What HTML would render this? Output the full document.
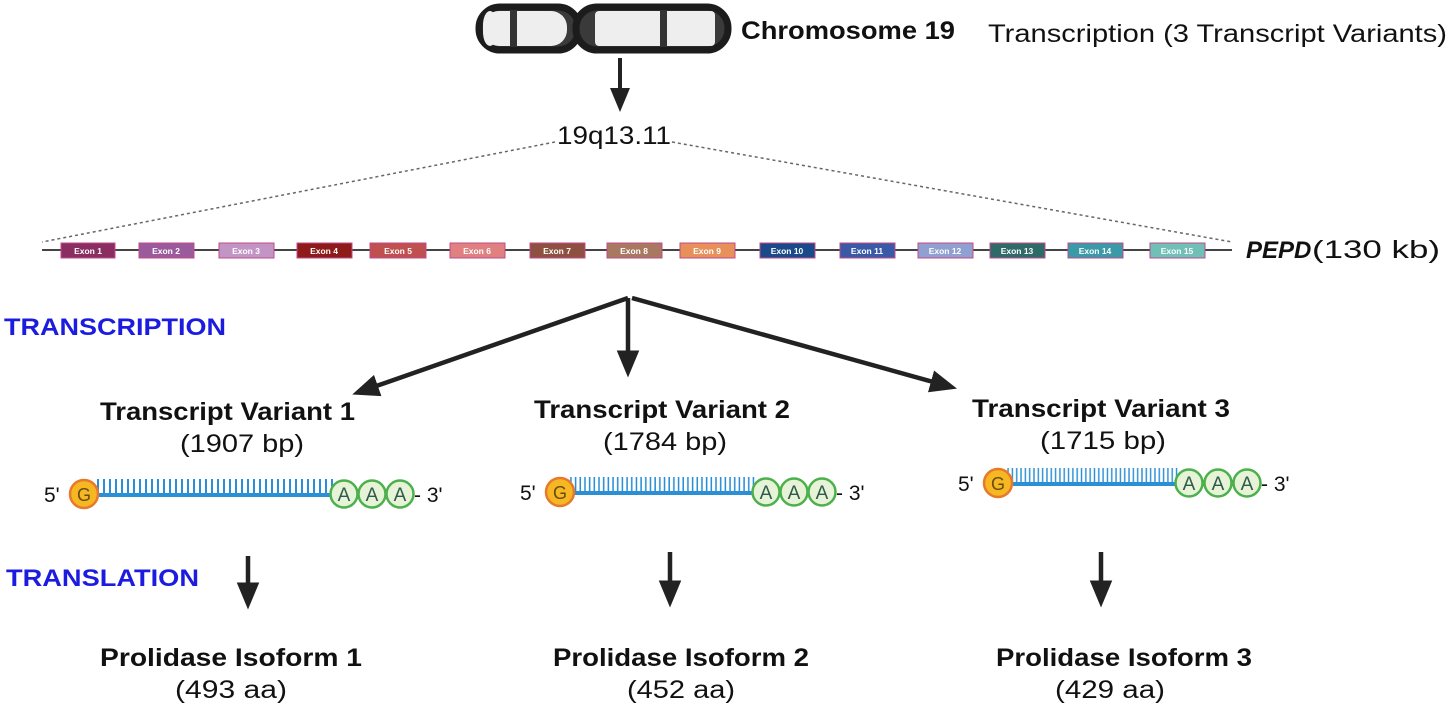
<!DOCTYPE html>
<html><head><meta charset="utf-8"><style>
html,body{margin:0;padding:0;background:#fff;}
svg{display:block;font-family:"Liberation Sans",sans-serif;}
.b{font-weight:bold;}
</style></head><body>
<svg width="1450" height="708" viewBox="0 0 1450 708" xmlns="http://www.w3.org/2000/svg">
<defs>
<pattern id="tk" width="6" height="16" patternUnits="userSpaceOnUse"><rect x="1" y="0" width="2" height="16" fill="#2b8fd6"/></pattern>
<marker id="ah" markerWidth="6" markerHeight="6" refX="3" refY="3" orient="auto" markerUnits="strokeWidth"><path d="M0,0.5 L6,3 L0,5.5 z" fill="#222"/></marker>
</defs>
<g stroke="#1c1c1c" stroke-width="7">
<rect x="479" y="7" width="100" height="43" rx="21" fill="#3a3a3a"/>
<rect x="576" y="7" width="152" height="43" rx="21" fill="#3a3a3a"/>
</g>
<rect x="483" y="11" width="84" height="35" rx="16" fill="#eeeeee"/>
<rect x="595" y="11" width="120" height="35" rx="4" fill="#eeeeee"/>
<rect x="483" y="11" width="14" height="35" rx="14" fill="#eeeeee"/>
<rect x="510" y="10" width="7" height="37" fill="#333"/>
<rect x="660" y="10" width="7" height="37" fill="#333"/>
<text x="741" y="39" font-size="25" class="b" fill="#111" textLength="214" lengthAdjust="spacingAndGlyphs">Chromosome 19</text>
<text x="988" y="42" font-size="25" fill="#111" textLength="459" lengthAdjust="spacingAndGlyphs">Transcription (3 Transcript Variants)</text>
<line x1="620" y1="58" x2="620" y2="100" stroke="#222" stroke-width="4" marker-end="url(#ah)"/>
<text x="557" y="144" font-size="25" fill="#111" textLength="114" lengthAdjust="spacingAndGlyphs">19q13.11</text>
<line x1="555" y1="142" x2="42" y2="242" stroke="#666" stroke-width="1.5" stroke-dasharray="3,3"/>
<line x1="672" y1="142" x2="1232" y2="242" stroke="#666" stroke-width="1.5" stroke-dasharray="3,3"/>
<line x1="42" y1="250" x2="1232" y2="250" stroke="#444" stroke-width="2"/>
<g stroke="#c04a8a" stroke-width="1">
<rect x="61" y="243" width="54" height="15" fill="#8a2e62"/>
<rect x="139" y="243" width="55" height="15" fill="#9b5a9b"/>
<rect x="219" y="243" width="55" height="15" fill="#c295c5"/>
<rect x="297" y="243" width="55" height="15" fill="#8e1a1a"/>
<rect x="370" y="243" width="56" height="15" fill="#c05050"/>
<rect x="450" y="243" width="55" height="15" fill="#e08080"/>
<rect x="530" y="243" width="55" height="15" fill="#8e5040"/>
<rect x="607" y="243" width="55" height="15" fill="#a87860"/>
<rect x="680" y="243" width="55" height="15" fill="#e8905a"/>
<rect x="760" y="243" width="55" height="15" fill="#1a4a8a"/>
<rect x="840" y="243" width="55" height="15" fill="#3a5aa8"/>
<rect x="918" y="243" width="55" height="15" fill="#90a0d0"/>
<rect x="990" y="243" width="55" height="15" fill="#2e6a68"/>
<rect x="1068" y="243" width="55" height="15" fill="#3a9aa8"/>
<rect x="1150" y="243" width="55" height="15" fill="#70c0b8"/>
</g>
<g font-size="8.5" fill="#fff" text-anchor="middle" font-weight="bold">
<text x="88" y="254">Exon 1</text><text x="166" y="254">Exon 2</text><text x="246" y="254">Exon 3</text>
<text x="324" y="254">Exon 4</text><text x="398" y="254">Exon 5</text><text x="477" y="254">Exon 6</text>
<text x="557" y="254">Exon 7</text><text x="634" y="254">Exon 8</text><text x="707" y="254">Exon 9</text>
<text x="787" y="254">Exon 10</text><text x="867" y="254">Exon 11</text><text x="945" y="254">Exon 12</text>
<text x="1017" y="254">Exon 13</text><text x="1095" y="254">Exon 14</text><text x="1177" y="254">Exon 15</text>
</g>
<text x="1246" y="258" font-size="24" class="b" font-style="italic" fill="#111">PEPD</text>
<text x="1312" y="258" font-size="25" fill="#111" textLength="128" lengthAdjust="spacingAndGlyphs">(130 kb)</text>
<text x="4" y="335" font-size="24" class="b" fill="#1c1ce0" textLength="222" lengthAdjust="spacingAndGlyphs">TRANSCRIPTION</text>
<text x="6" y="586" font-size="24" class="b" fill="#1c1ce0" textLength="193" lengthAdjust="spacingAndGlyphs">TRANSLATION</text>
<g stroke="#222" stroke-width="4.5">
<line x1="628" y1="298" x2="365" y2="390" marker-end="url(#ah)"/>
<line x1="628" y1="298" x2="628" y2="364" marker-end="url(#ah)"/>
<line x1="632" y1="298" x2="944" y2="385" marker-end="url(#ah)"/>
</g>
<g font-size="25" fill="#111">
<text x="100" y="420" class="b" textLength="255" lengthAdjust="spacingAndGlyphs">Transcript Variant 1</text>
<text x="180" y="452" textLength="124" lengthAdjust="spacingAndGlyphs">(1907 bp)</text>
<text x="534" y="418" class="b" textLength="256" lengthAdjust="spacingAndGlyphs">Transcript Variant 2</text>
<text x="603" y="450" textLength="124" lengthAdjust="spacingAndGlyphs">(1784 bp)</text>
<text x="972" y="417" class="b" textLength="258" lengthAdjust="spacingAndGlyphs">Transcript Variant 3</text>
<text x="1040" y="449" textLength="126" lengthAdjust="spacingAndGlyphs">(1715 bp)</text>
</g>
<g transform="translate(84,494)">
<text x="-40" y="8" font-size="21" fill="#111">5'</text>
<rect x="12" y="-15" width="240" height="14" fill="url(#tk)"/>
<rect x="12" y="-1" width="240" height="4" fill="#2b8fd6"/>
<circle cx="0" cy="0" r="14" fill="#f5b722" stroke="#e8792a" stroke-width="2.5"/>
<text x="0" y="7" font-size="18" text-anchor="middle" fill="#6a4a10">G</text>
<g fill="#e6f3d6" stroke="#4cb04c" stroke-width="2.5">
<circle cx="260" cy="0" r="13.5"/><circle cx="288" cy="0" r="13.5"/><circle cx="316" cy="0" r="13.5"/></g>
<g font-size="19" text-anchor="middle" fill="#2e5a4a"><text x="260" y="7">A</text><text x="288" y="7">A</text><text x="316" y="7">A</text></g>
<text x="330" y="8" font-size="21" fill="#111">- 3'</text>
</g>
<g transform="translate(560,492) scale(0.78,1)">
<rect x="12" y="-15" width="240" height="14" fill="url(#tk)"/>
<rect x="12" y="-1" width="240" height="4" fill="#2b8fd6"/>
</g>
<g transform="translate(560,492)">
<text x="-40" y="8" font-size="21" fill="#111">5'</text>
<circle cx="0" cy="0" r="14" fill="#f5b722" stroke="#e8792a" stroke-width="2.5"/>
<text x="0" y="7" font-size="18" text-anchor="middle" fill="#6a4a10">G</text>
<g fill="#e6f3d6" stroke="#4cb04c" stroke-width="2.5">
<circle cx="206" cy="0" r="13.5"/><circle cx="234" cy="0" r="13.5"/><circle cx="262" cy="0" r="13.5"/></g>
<g font-size="19" text-anchor="middle" fill="#2e5a4a"><text x="206" y="7">A</text><text x="234" y="7">A</text><text x="262" y="7">A</text></g>
<text x="276" y="8" font-size="21" fill="#111">- 3'</text>
</g>
<g transform="translate(998,483) scale(0.72,1)">
<rect x="12" y="-15" width="240" height="14" fill="url(#tk)"/>
<rect x="12" y="-1" width="240" height="4" fill="#2b8fd6"/>
</g>
<g transform="translate(998,483)">
<text x="-40" y="8" font-size="21" fill="#111">5'</text>
<circle cx="0" cy="0" r="14" fill="#f5b722" stroke="#e8792a" stroke-width="2.5"/>
<text x="0" y="7" font-size="18" text-anchor="middle" fill="#6a4a10">G</text>
<g fill="#e6f3d6" stroke="#4cb04c" stroke-width="2.5">
<circle cx="191" cy="0" r="13.5"/><circle cx="220" cy="0" r="13.5"/><circle cx="249" cy="0" r="13.5"/></g>
<g font-size="19" text-anchor="middle" fill="#2e5a4a"><text x="191" y="7">A</text><text x="220" y="7">A</text><text x="249" y="7">A</text></g>
<text x="263" y="8" font-size="21" fill="#111">- 3'</text>
</g>
<g stroke="#222" stroke-width="4.5">
<line x1="248" y1="556" x2="248" y2="596" marker-end="url(#ah)"/>
<line x1="670" y1="552" x2="670" y2="594" marker-end="url(#ah)"/>
<line x1="1101" y1="552" x2="1101" y2="594" marker-end="url(#ah)"/>
</g>
<g font-size="25" fill="#111">
<text x="100" y="666" class="b" textLength="262" lengthAdjust="spacingAndGlyphs">Prolidase Isoform 1</text>
<text x="175" y="698" textLength="112" lengthAdjust="spacingAndGlyphs">(493 aa)</text>
<text x="553" y="666" class="b" textLength="256" lengthAdjust="spacingAndGlyphs">Prolidase Isoform 2</text>
<text x="627" y="698" textLength="108" lengthAdjust="spacingAndGlyphs">(452 aa)</text>
<text x="996" y="666" class="b" textLength="256" lengthAdjust="spacingAndGlyphs">Prolidase Isoform 3</text>
<text x="1055" y="698" textLength="110" lengthAdjust="spacingAndGlyphs">(429 aa)</text>
</g>
</svg>
</body></html>
